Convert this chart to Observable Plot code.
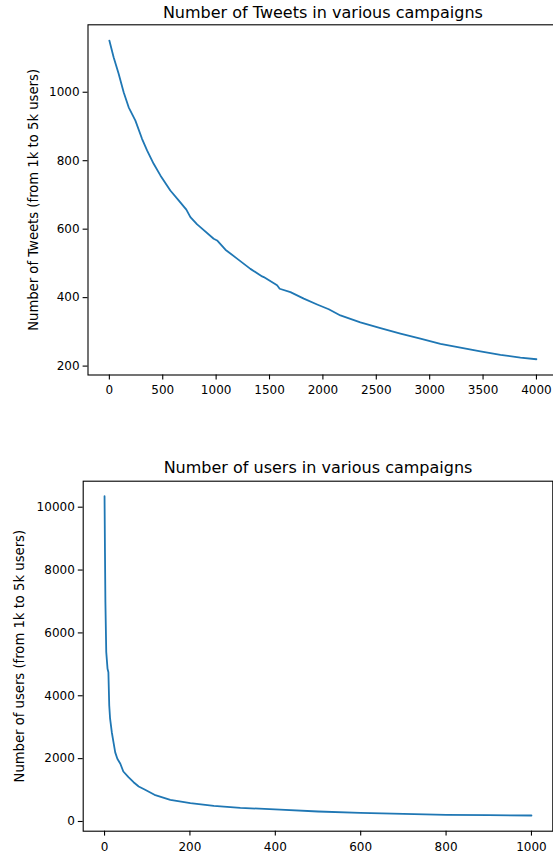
<!DOCTYPE html>
<html>
<head>
<meta charset="utf-8">
<script src="https://cdn.jsdelivr.net/npm/d3@7"></script>
<script src="https://cdn.jsdelivr.net/npm/@observablehq/plot@0.6"></script>
<style>
  html, body { margin: 0; padding: 0; background: white; }
  #chart svg { display: block; }
</style>
</head>
<body>
<div id="chart"></div>
<script>
// ---- Data ----
const tweetsTitle = "Number of Tweets in various campaigns";
const tweetsYLabel = "Number of Tweets (from 1k to 5k users)";
const tweetsX = [0, 40, 87, 134, 181, 244, 306, 353, 415, 478, 571, 649, 721, 759, 822, 852, 977, 1009, 1087, 1196, 1321, 1431, 1446, 1571, 1595, 1696, 1821, 1946, 2055, 2164, 2351, 2539, 2726, 2913, 3101, 3288, 3475, 3663, 3850, 4000];
const tweetsY = [1151, 1102, 1054, 1000, 956, 917, 864, 830, 791, 757, 713, 684, 657, 635, 614, 606, 572, 567, 540, 514, 484, 462, 460, 436, 426, 416, 397, 380, 366, 348, 328, 311, 295, 280, 265, 254, 243, 233, 225, 220];
const tweetsXTicks = [0, 500, 1000, 1500, 2000, 2500, 3000, 3500, 4000];
const tweetsYTicks = [200, 400, 600, 800, 1000];

const usersTitle = "Number of users in various campaigns";
const usersYLabel = "Number of users (from 1k to 5k users)";
const usersX = [0, 1, 2, 4, 7, 9, 11, 13, 17, 21, 25, 30, 37, 44, 56, 68, 80, 95, 117, 154, 201, 256, 318, 411, 500, 599, 700, 800, 900, 1000];
const usersY = [10350, 8570, 6980, 5390, 4860, 4750, 3690, 3270, 2840, 2520, 2200, 1995, 1836, 1591, 1410, 1250, 1114, 1008, 849, 690, 582, 500, 436, 375, 318, 277, 245, 213, 200, 191];
const usersXTicks = [0, 200, 400, 600, 800, 1000];
const usersYTicks = [0, 2000, 4000, 6000, 8000, 10000];

const lineColor = "#1f77b4";
const fmt = d3.format("d");
const baseStyle = {fontFamily: "'DejaVu Sans', sans-serif", fontSize: "12px", color: "black", background: "white", overflow: "hidden"};

function panel({xs, ys, xTicks, yTicks, xDomain, yDomain, title, yLabel, margins, height, yLabelDx, titleDy}) {
  const idx = xs.map((_, i) => i);
  return Plot.plot({
    width: 553,
    height,
    ...margins,
    style: baseStyle,
    x: {domain: xDomain},
    y: {domain: yDomain},
    marks: [
      Plot.frame({stroke: "black", strokeWidth: 1.1}),
      Plot.axisX({ticks: xTicks, tickFormat: fmt, tickSize: 4.9, tickPadding: 6, label: null, stroke: "black", strokeWidth: 1.1, fontSize: 12}),
      Plot.axisY({ticks: yTicks, tickFormat: fmt, tickSize: 4.9, tickPadding: 3.5, label: null, stroke: "black", strokeWidth: 1.1, fontSize: 12}),
      Plot.line(idx, {x: i => xs[i], y: i => ys[i], stroke: lineColor, strokeWidth: 1.8}),
      Plot.text([title], {frameAnchor: "top", dy: titleDy, fontSize: 16, fill: "black", textAnchor: "middle", lineAnchor: "middle"}),
      Plot.text([yLabel], {frameAnchor: "left", dx: yLabelDx, rotate: -90, fontSize: 13.2, fill: "black", textAnchor: "middle", lineAnchor: "middle"})
    ]
  });
}

const topPanel = panel({
  xs: tweetsX, ys: tweetsY, xTicks: tweetsXTicks, yTicks: tweetsYTicks,
  xDomain: [-200, 4200], yDomain: [174, 1197],
  title: tweetsTitle, yLabel: tweetsYLabel,
  margins: {marginLeft: 87.5, marginRight: -4.3, marginTop: 24.3, marginBottom: 52.5},
  height: 427, yLabelDx: -54.5, titleDy: -12.3
});

const bottomPanel = panel({
  xs: usersX, ys: usersY, xTicks: usersXTicks, yTicks: usersYTicks,
  xDomain: [-50, 1050], yDomain: [-309, 10827],
  title: usersTitle, yLabel: usersYLabel,
  margins: {marginLeft: 82.7, marginRight: 0.7, marginTop: 53.7, marginBottom: 23.3},
  height: 427, yLabelDx: -63.7, titleDy: -13
});

document.getElementById("chart").append(topPanel, bottomPanel);
</script>
</body>
</html>
